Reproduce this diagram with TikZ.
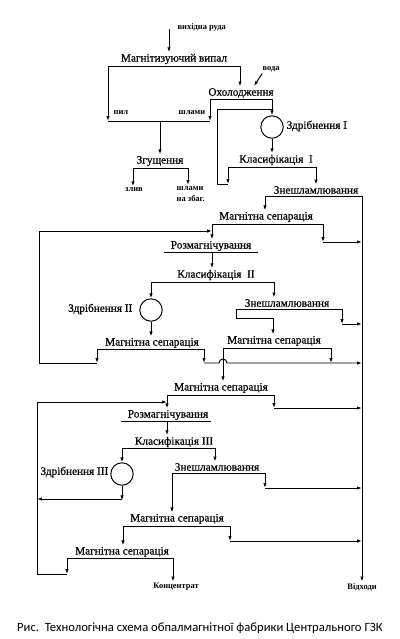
\documentclass[tikz,border=0pt]{standalone}
\usepackage{fontspec}
\setmainfont{Liberation Serif}
\newfontfamily\opfont{Liberation Serif}[FakeBold=0.6]
\newfontfamily\capfont{Carlito}
\usetikzlibrary{arrows.meta,calc}

\begin{document}
\begin{tikzpicture}[x=0.025cm,y=-0.025cm,
  op/.style={font=\opfont\fontsize{8}{9}\selectfont,inner sep=1pt},
  tag/.style={font=\bfseries\fontsize{6}{7.8}\selectfont,inner sep=1pt},
  mill/.style={draw,circle,line width=0.7pt,minimum size=0.56cm,inner sep=0pt},
  bus/.style={line width=0.7pt},
  flow/.style={line width=0.7pt,-{Latex[length=3.5pt,width=2.4pt]}}
]
  \useasboundingbox (0,0) rectangle (400,639);

  % roasting and cooling
  \node[tag,anchor=west] (feed) at (176,27) {вихідна руда};
  \node[op] (roast) at (174,59) {Магнітизуючий випал};
  \coordinate (feedin) at (169,29);
  \draw[flow] (feedin) -- (feedin |- roast.north);
  \coordinate (roastW) at (108,66);
  \coordinate (roastE) at (240,66);
  \draw[bus] (roastW) -- (roastE);
  \node[op] (cool) at (241,93) {Охолодження};
  \draw[flow] (roastE) -- (roastE |- cool.north);
  \node[tag] (water) at (271,69) {вода};
  \coordinate (waterin) at (254,86);
  \draw[flow] ([xshift=1pt]water.south west) -- (waterin);
  \coordinate (coolW) at (210,99);
  \coordinate (coolE) at (272,99);
  \draw[bus] (coolW) -- (coolE);

  % dust and slimes
  \coordinate (dustW) at (108,121);
  \coordinate (dustE) at (210,121);
  \draw[bus] (dustW) -- (dustE);
  \draw[flow] (roastW) -- (dustW);
  \draw[flow] (coolW) -- (dustE);
  \node[tag,anchor=west] (dust) at (112,113) {пил};
  \node[tag,anchor=east] (slime) at (207,113) {шлами};
  \node[op] (thick) at (160,161) {Згущення};
  \coordinate (dustM) at (160,121);
  \draw[flow] (dustM) -- (thick.north);
  \coordinate (thickW) at (133,168);
  \coordinate (thickE) at (188,168);
  \draw[bus] (thickW) -- (thickE);
  \node[tag] (over) at (134,190) {злив};
  \node[tag,anchor=north west,align=left] (under) at (175,185) {шлами\\на збаг.};
  \draw[flow] (thickW) -- (thickW |- over.north);
  \draw[flow] (thickE) -- (thickE |- under.north);

  % stage I
  \node[mill] (mill1) at (272,127) {};
  \node[op,anchor=west] (mill1lbl) at (285,126) {Здрібнення I};
  \draw[flow] (coolE) -- (mill1.north);
  \node[op] (class1) at (276,160) {Класифікація\ \ I};
  \draw[flow] (mill1.south) -- (mill1.south |- class1.north);
  \coordinate (class1W) at (228,167);
  \coordinate (class1E) at (316,167);
  \draw[bus] (class1W) -- (class1E);
  \coordinate (rec1) at (228,184);
  \coordinate (rec1top) at (217,109);
  \draw[flow] (class1W) -- (rec1);
  \draw[bus] (rec1) -| (rec1top) -- (mill1.north |- rec1top);
  \node[op] (desl1) at (316,190) {Знешламлювання};
  \draw[flow] (class1E) -- (class1E |- desl1.north);
  \coordinate (desl1W) at (265,196);
  \coordinate (tail) at (362,196);
  \draw[bus] (desl1W) -- (tail);
  \node[tag] (waste) at (362,587) {Відходи};
  \draw[flow] (tail) -- (waste.north);

  \node[op] (ms1) at (266,217) {Магнітна сепарація};
  \draw[flow] (desl1W) -- (desl1W |- ms1.north);
  \coordinate (ms1W) at (212,224);
  \coordinate (ms1E) at (323,224);
  \draw[bus] (ms1W) -- (ms1E);
  \coordinate (t1) at (323,242);
  \draw[flow] (ms1E) -- (t1);
  \draw[flow] (t1) -- (t1 -| tail);

  % stage II
  \node[op] (demag2) at (211,246) {Розмагнічування};
  \draw[bus] ([xshift=-4pt]demag2.south west) -- ([xshift=4pt]demag2.south east);
  \draw[flow] (ms1W) -- (ms1W |- demag2.north);
  \node[op] (class2) at (216,275) {Класифікація\ \ II};
  \draw[flow] (ms1W |- demag2.south) -- (ms1W |- class2.north);
  \coordinate (class2W) at (151,282);
  \coordinate (class2E) at (274,282);
  \draw[bus] (class2W) -- (class2E);
  \node[mill] (mill2) at (151,310) {};
  \node[op,anchor=east] (mill2lbl) at (134,309) {Здрібнення II};
  \draw[flow] (class2W) -- (mill2.north);

  \node[op] (desl2) at (287,303) {Знешламлювання};
  \draw[flow] (class2E) -- (class2E |- desl2.north);
  \coordinate (desl2W) at (236,309);
  \coordinate (desl2E) at (342,309);
  \draw[bus] (desl2W) -- (desl2E);
  \node[op] (ms2b) at (274,341) {Магнітна сепарація};
  \coordinate (d2bend) at (273,318);
  \draw[flow] (desl2W) |- (d2bend) -- (d2bend |- ms2b.north);
  \coordinate (t2) at (342,324);
  \draw[flow] (desl2E) -- (t2);
  \draw[flow] (t2) -- (t2 -| tail);

  \node[op] (ms2a) at (152,343) {Магнітна сепарація};
  \draw[flow] (mill2.south) -- (mill2.south |- ms2a.north);
  \coordinate (ms2aW) at (97,349);
  \coordinate (ms2aE) at (204,349);
  \draw[bus] (ms2aW) -- (ms2aE);
  \coordinate (r2) at (97,363);
  \coordinate (loop2) at (39,231);
  \draw[flow] (ms2aW) -- (r2);
  \draw[flow] (r2) -| (loop2) -- (loop2 -| ms1W);
  \coordinate (ms2bW) at (223,348);
  \coordinate (ms2bE) at (331,348);
  \draw[bus] (ms2bW) -- (ms2bE);
  \coordinate (t3) at (204,363);
  \draw[flow] (ms2aE) -- (t3);
  \draw[flow] (ms2bE) -- (ms2bE |- t3);
  \draw[flow] (t3) -- ([xshift=-0.1cm]t3 -| ms2bW)
    arc[start angle=180,end angle=0,radius=0.1cm] -- (t3 -| tail);

  \node[op] (ms3) at (221,388) {Магнітна сепарація};
  \draw[flow] (ms2bW) -- (ms2bW |- ms3.north);
  \coordinate (ms3W) at (167,395);
  \coordinate (ms3E) at (274,395);
  \draw[bus] (ms3W) -- (ms3E);
  \coordinate (t4) at (274,408);
  \draw[flow] (ms3E) -- (t4);
  \draw[flow] (t4) -- (t4 -| tail);

  % stage III
  \node[op] (demag3) at (168,415) {Розмагнічування};
  \draw[bus] ([xshift=-4pt]demag3.south west) -- ([xshift=1pt]demag3.south east);
  \draw[flow] (ms3W) -- (ms3W |- demag3.north);
  \node[op] (class3) at (174,442) {Класифікація III};
  \draw[flow] (ms3W |- demag3.south) -- (ms3W |- class3.north);
  \coordinate (class3W) at (122,448);
  \coordinate (class3E) at (215,448);
  \draw[bus] (class3W) -- (class3E);
  \node[mill] (mill3) at (122,474) {};
  \node[op,anchor=east] (mill3lbl) at (110,472) {Здрібнення III};
  \draw[flow] (class3W) -- (mill3.north);

  \node[op] (desl3) at (217,467) {Знешламлювання};
  \draw[flow] (class3E) -- (class3E |- desl3.north);
  \coordinate (desl3W) at (172,473);
  \coordinate (desl3E) at (265,473);
  \draw[bus] (desl3W) -- (desl3E);
  \coordinate (t5) at (265,488);
  \draw[flow] (desl3E) -- (t5);
  \draw[flow] (t5) -- (t5 -| tail);

  \node[op] (ms4) at (177,519) {Магнітна сепарація};
  \draw[flow] (desl3W) -- (desl3W |- ms4.north);
  \coordinate (ms4W) at (123,526);
  \coordinate (ms4E) at (230,526);
  \draw[bus] (ms4W) -- (ms4E);
  \coordinate (t6) at (230,541);
  \draw[flow] (ms4E) -- (t6);
  \draw[flow] (t6) -- (t6 -| tail);

  \node[op] (ms5) at (122,552) {Магнітна сепарація};
  \draw[flow] (ms4W) -- (ms4W |- ms5.north);
  \coordinate (ms5W) at (67,558);
  \coordinate (ms5E) at (173,558);
  \draw[bus] (ms5W) -- (ms5E);
  \coordinate (r5) at (67,574);
  \coordinate (loop3) at (37,402);
  \draw[flow] (ms5W) -- (r5);
  \draw[flow] (r5) -| (loop3) -- (loop3 -| ms3W);
  \coordinate (r3) at (122,499);
  \draw[flow] (mill3.south) -- (r3 |- mill3.south) -- ([yshift=-1pt]r3);
  \draw[flow] (r3) -- (r3 -| loop3);
  \node[tag] (conc) at (176,587) {Концентрат};
  \draw[flow] (ms5E) -- (ms5E |- conc.north);

  % caption
  \node[font=\capfont\fontsize{9}{11}\selectfont,inner sep=0pt] (caption) at (200,628)
    {Рис.\ \ Технологічна схема обпалмагнітної фабрики Центрального ГЗК};
\end{tikzpicture}
\end{document}
